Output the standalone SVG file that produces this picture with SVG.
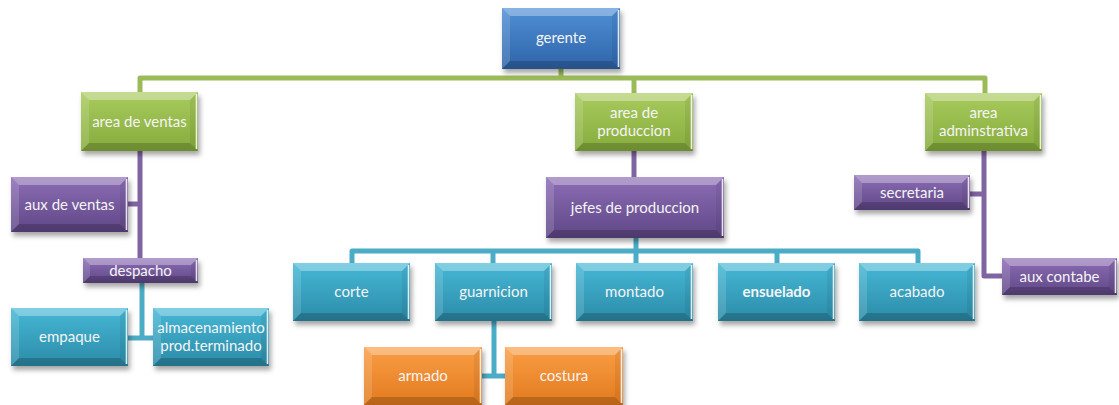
<svg xmlns="http://www.w3.org/2000/svg" width="1119" height="405" viewBox="0 0 1119 405">
  <defs>
    <linearGradient id="gBlue" x1="0" y1="0" x2="0" y2="1">
      <stop offset="0" stop-color="#4f8fd6"/>
      <stop offset="1" stop-color="#2f64a8"/>
    </linearGradient>
    <linearGradient id="gGreen" x1="0" y1="0" x2="0" y2="1">
      <stop offset="0" stop-color="#a9cb5f"/>
      <stop offset="1" stop-color="#86ab3b"/>
    </linearGradient>
    <linearGradient id="gPurple" x1="0" y1="0" x2="0" y2="1">
      <stop offset="0" stop-color="#8c6db5"/>
      <stop offset="1" stop-color="#5f4786"/>
    </linearGradient>
    <linearGradient id="gTeal" x1="0" y1="0" x2="0" y2="1">
      <stop offset="0" stop-color="#46b8d6"/>
      <stop offset="1" stop-color="#2b8ba8"/>
    </linearGradient>
    <linearGradient id="gOrange" x1="0" y1="0" x2="0" y2="1">
      <stop offset="0" stop-color="#fa9e45"/>
      <stop offset="1" stop-color="#e27a1e"/>
    </linearGradient>
    <filter id="soft" x="-20%" y="-20%" width="140%" height="160%">
      <feGaussianBlur stdDeviation="2.5"/>
    </filter>
  </defs>
  <style>
    .shadow { fill: #000; fill-opacity: 0.35; filter: url(#soft); }
    .top { fill: #fff; fill-opacity: 0.32; }
    .lft { fill: #fff; fill-opacity: 0.14; }
    .rgt { fill: #000; fill-opacity: 0.06; }
    .bot { fill: #000; fill-opacity: 0.18; }
    .hl { stroke: #fff; stroke-opacity: 0.85; stroke-width: 1.6; fill: none; }
    .blue { fill: url(#gBlue); }
    .green { fill: url(#gGreen); }
    .purple { fill: url(#gPurple); }
    .teal { fill: url(#gTeal); }
    .orange { fill: url(#gOrange); }
    text { font-family: Lato, "Open Sans", sans-serif; font-size: 15px; fill: #f4f4f4; text-anchor: middle; }
    .bold { font-weight: bold; }
    .cn { fill: none; stroke-width: 5; stroke-linejoin: round; stroke-linecap: butt; }
    .cg { stroke: #9bbb59; }
    .cp { stroke: #8064a2; }
    .ct { stroke: #4bacc6; }
  </style>

  <!-- connectors -->
  <g id="connectors">
    <path class="cn cg" d="M140,92 V78 H985 V93"/>
    <path class="cn cg" d="M561,69 V78"/>
    <path class="cn cg" d="M634,78 V93"/>
    <path class="cn cp" d="M140,151 V258"/>
    <path class="cn cp" d="M128,204 H140"/>
    <path class="cn cp" d="M634,151 V177"/>
    <path class="cn cp" d="M984,151 V276 H1002"/>
    <path class="cn cp" d="M970,194 H984"/>
    <path class="cn ct" d="M142,283 V338"/>
    <path class="cn ct" d="M128,338 H153"/>
    <path class="cn ct" d="M636,238 V263"/>
    <path class="cn ct" d="M352,263 V251 H918 V263"/>
    <path class="cn ct" d="M493,251 V263"/>
    <path class="cn ct" d="M777,251 V263"/>
    <path class="cn ct" d="M494,321 V376"/>
    <path class="cn ct" d="M482,376 H505"/>
  </g>

  <g id="gerente">
    <rect class="shadow" x="504" y="12" width="118" height="61"/>
    <rect class="blue" x="502" y="8" width="118" height="61"/>
    <polygon class="top" points="502,8 620,8 612,16 510,16"/>
    <polygon class="lft" points="502,8 510,16 510,61 502,69"/>
    <polygon class="rgt" points="620,8 620,69 612,61 612,16"/>
    <polygon class="bot" points="502,69 510,61 612,61 620,69"/>
    <line class="hl" x1="618.5" y1="10" x2="618.5" y2="67"/>
    <text x="561" y="43">gerente</text>
  </g>

  <g id="area-ventas">
    <rect class="shadow" x="83" y="96" width="117" height="59"/>
    <rect class="green" x="81" y="92" width="117" height="59"/>
    <polygon class="top" points="81,92 198,92 190,100 89,100"/>
    <polygon class="lft" points="81,92 89,100 89,143 81,151"/>
    <polygon class="rgt" points="198,92 198,151 190,143 190,100"/>
    <polygon class="bot" points="81,151 89,143 190,143 198,151"/>
    <line class="hl" x1="196.5" y1="94" x2="196.5" y2="149"/>
    <text x="139.5" y="126.5">area de ventas</text>
  </g>

  <g id="area-produccion">
    <rect class="shadow" x="577" y="97" width="118" height="58"/>
    <rect class="green" x="575" y="93" width="118" height="58"/>
    <polygon class="top" points="575,93 693,93 685,101 583,101"/>
    <polygon class="lft" points="575,93 583,101 583,143 575,151"/>
    <polygon class="rgt" points="693,93 693,151 685,143 685,101"/>
    <polygon class="bot" points="575,151 583,143 685,143 693,151"/>
    <line class="hl" x1="691.5" y1="95" x2="691.5" y2="149"/>
    <text x="634" y="118">area de</text>
    <text x="634" y="136">produccion</text>
  </g>

  <g id="area-adminstrativa">
    <rect class="shadow" x="927" y="97" width="117" height="58"/>
    <rect class="green" x="925" y="93" width="117" height="58"/>
    <polygon class="top" points="925,93 1042,93 1034,101 933,101"/>
    <polygon class="lft" points="925,93 933,101 933,143 925,151"/>
    <polygon class="rgt" points="1042,93 1042,151 1034,143 1034,101"/>
    <polygon class="bot" points="925,151 933,143 1034,143 1042,151"/>
    <line class="hl" x1="1040.5" y1="95" x2="1040.5" y2="149"/>
    <text x="983.5" y="118">area</text>
    <text x="983.5" y="136">adminstrativa</text>
  </g>

  <g id="aux-ventas">
    <rect class="shadow" x="13" y="181" width="117" height="55"/>
    <rect class="purple" x="11" y="177" width="117" height="55"/>
    <polygon class="top" points="11,177 128,177 120,185 19,185"/>
    <polygon class="lft" points="11,177 19,185 19,224 11,232"/>
    <polygon class="rgt" points="128,177 128,232 120,224 120,185"/>
    <polygon class="bot" points="11,232 19,224 120,224 128,232"/>
    <line class="hl" x1="126.5" y1="179" x2="126.5" y2="230"/>
    <text x="69.5" y="209.5">aux de ventas</text>
  </g>

  <g id="despacho">
    <rect class="shadow" x="85" y="262" width="115" height="25"/>
    <rect class="purple" x="83" y="258" width="115" height="25"/>
    <polygon class="top" points="83,258 198,258 191,265 90,265"/>
    <polygon class="lft" points="83,258 90,265 90,276 83,283"/>
    <polygon class="rgt" points="198,258 198,283 191,276 191,265"/>
    <polygon class="bot" points="83,283 90,276 191,276 198,283"/>
    <line class="hl" x1="196.5" y1="260" x2="196.5" y2="281"/>
    <text x="140.5" y="275.5">despacho</text>
  </g>

  <g id="jefes-produccion">
    <rect class="shadow" x="548" y="181" width="178" height="61"/>
    <rect class="purple" x="546" y="177" width="178" height="61"/>
    <polygon class="top" points="546,177 724,177 716,185 554,185"/>
    <polygon class="lft" points="546,177 554,185 554,230 546,238"/>
    <polygon class="rgt" points="724,177 724,238 716,230 716,185"/>
    <polygon class="bot" points="546,238 554,230 716,230 724,238"/>
    <line class="hl" x1="722.5" y1="179" x2="722.5" y2="236"/>
    <text x="635" y="212.5">jefes de produccion</text>
  </g>

  <g id="secretaria">
    <rect class="shadow" x="856" y="179" width="116" height="35"/>
    <rect class="purple" x="854" y="175" width="116" height="35"/>
    <polygon class="top" points="854,175 970,175 962,183 862,183"/>
    <polygon class="lft" points="854,175 862,183 862,202 854,210"/>
    <polygon class="rgt" points="970,175 970,210 962,202 962,183"/>
    <polygon class="bot" points="854,210 862,202 962,202 970,210"/>
    <line class="hl" x1="968.5" y1="177" x2="968.5" y2="208"/>
    <text x="912" y="197.5">secretaria</text>
  </g>

  <g id="aux-contabe">
    <rect class="shadow" x="1004" y="262" width="115" height="37"/>
    <rect class="purple" x="1002" y="258" width="115" height="37"/>
    <polygon class="top" points="1002,258 1117,258 1109,266 1010,266"/>
    <polygon class="lft" points="1002,258 1010,266 1010,287 1002,295"/>
    <polygon class="rgt" points="1117,258 1117,295 1109,287 1109,266"/>
    <polygon class="bot" points="1002,295 1010,287 1109,287 1117,295"/>
    <line class="hl" x1="1115.5" y1="260" x2="1115.5" y2="293"/>
    <text x="1059.5" y="281.5">aux contabe</text>
  </g>

  <g id="empaque">
    <rect class="shadow" x="13" y="312" width="117" height="58"/>
    <rect class="teal" x="11" y="308" width="117" height="58"/>
    <polygon class="top" points="11,308 128,308 120,316 19,316"/>
    <polygon class="lft" points="11,308 19,316 19,358 11,366"/>
    <polygon class="rgt" points="128,308 128,366 120,358 120,316"/>
    <polygon class="bot" points="11,366 19,358 120,358 128,366"/>
    <line class="hl" x1="126.5" y1="310" x2="126.5" y2="364"/>
    <text x="69.5" y="342">empaque</text>
  </g>

  <g id="almacenamiento">
    <rect class="shadow" x="155" y="312" width="116" height="58"/>
    <rect class="teal" x="153" y="308" width="116" height="58"/>
    <polygon class="top" points="153,308 269,308 261,316 161,316"/>
    <polygon class="lft" points="153,308 161,316 161,358 153,366"/>
    <polygon class="rgt" points="269,308 269,366 261,358 261,316"/>
    <polygon class="bot" points="153,366 161,358 261,358 269,366"/>
    <line class="hl" x1="267.5" y1="310" x2="267.5" y2="364"/>
    <text x="211" y="333">almacenamiento</text>
    <text x="211" y="351">prod.terminado</text>
  </g>

  <g id="corte">
    <rect class="shadow" x="295" y="267" width="117" height="58"/>
    <rect class="teal" x="293" y="263" width="117" height="58"/>
    <polygon class="top" points="293,263 410,263 402,271 301,271"/>
    <polygon class="lft" points="293,263 301,271 301,313 293,321"/>
    <polygon class="rgt" points="410,263 410,321 402,313 402,271"/>
    <polygon class="bot" points="293,321 301,313 402,313 410,321"/>
    <line class="hl" x1="408.5" y1="265" x2="408.5" y2="319"/>
    <text x="351.5" y="297">corte</text>
  </g>

  <g id="guarnicion">
    <rect class="shadow" x="437" y="267" width="117" height="58"/>
    <rect class="teal" x="435" y="263" width="117" height="58"/>
    <polygon class="top" points="435,263 552,263 544,271 443,271"/>
    <polygon class="lft" points="435,263 443,271 443,313 435,321"/>
    <polygon class="rgt" points="552,263 552,321 544,313 544,271"/>
    <polygon class="bot" points="435,321 443,313 544,313 552,321"/>
    <line class="hl" x1="550.5" y1="265" x2="550.5" y2="319"/>
    <text x="493.5" y="297">guarnicion</text>
  </g>

  <g id="montado">
    <rect class="shadow" x="578" y="267" width="117" height="58"/>
    <rect class="teal" x="576" y="263" width="117" height="58"/>
    <polygon class="top" points="576,263 693,263 685,271 584,271"/>
    <polygon class="lft" points="576,263 584,271 584,313 576,321"/>
    <polygon class="rgt" points="693,263 693,321 685,313 685,271"/>
    <polygon class="bot" points="576,321 584,313 685,313 693,321"/>
    <line class="hl" x1="691.5" y1="265" x2="691.5" y2="319"/>
    <text x="634.5" y="297">montado</text>
  </g>

  <g id="ensuelado">
    <rect class="shadow" x="720" y="267" width="117" height="58"/>
    <rect class="teal" x="718" y="263" width="117" height="58"/>
    <polygon class="top" points="718,263 835,263 827,271 726,271"/>
    <polygon class="lft" points="718,263 726,271 726,313 718,321"/>
    <polygon class="rgt" points="835,263 835,321 827,313 827,271"/>
    <polygon class="bot" points="718,321 726,313 827,313 835,321"/>
    <line class="hl" x1="833.5" y1="265" x2="833.5" y2="319"/>
    <text class="bold" x="776.5" y="297">ensuelado</text>
  </g>

  <g id="acabado">
    <rect class="shadow" x="861" y="267" width="116" height="58"/>
    <rect class="teal" x="859" y="263" width="116" height="58"/>
    <polygon class="top" points="859,263 975,263 967,271 867,271"/>
    <polygon class="lft" points="859,263 867,271 867,313 859,321"/>
    <polygon class="rgt" points="975,263 975,321 967,313 967,271"/>
    <polygon class="bot" points="859,321 867,313 967,313 975,321"/>
    <line class="hl" x1="973.5" y1="265" x2="973.5" y2="319"/>
    <text x="917" y="297">acabado</text>
  </g>

  <g id="armado">
    <rect class="shadow" x="366" y="351" width="118" height="58"/>
    <rect class="orange" x="364" y="347" width="118" height="58"/>
    <polygon class="top" points="364,347 482,347 474,355 372,355"/>
    <polygon class="lft" points="364,347 372,355 372,397 364,405"/>
    <polygon class="rgt" points="482,347 482,405 474,397 474,355"/>
    <polygon class="bot" points="364,405 372,397 474,397 482,405"/>
    <line class="hl" x1="480.5" y1="349" x2="480.5" y2="403"/>
    <text x="423" y="381">armado</text>
  </g>

  <g id="costura">
    <rect class="shadow" x="507" y="351" width="118" height="58"/>
    <rect class="orange" x="505" y="347" width="118" height="58"/>
    <polygon class="top" points="505,347 623,347 615,355 513,355"/>
    <polygon class="lft" points="505,347 513,355 513,397 505,405"/>
    <polygon class="rgt" points="623,347 623,405 615,397 615,355"/>
    <polygon class="bot" points="505,405 513,397 615,397 623,405"/>
    <line class="hl" x1="621.5" y1="349" x2="621.5" y2="403"/>
    <text x="564" y="381">costura</text>
  </g>
</svg>
